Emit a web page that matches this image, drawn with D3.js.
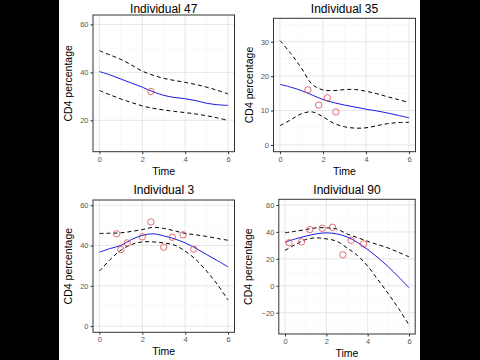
<!DOCTYPE html>
<html lang="en">
<head>
<meta charset="UTF-8">
<title>CD4 percentage by individual</title>
<script src="https://d3js.org/d3.v7.min.js"></script>
<style>
    body { margin: 0; background: #000; }
    svg { display: block; }
    .tick-label { font-family: "Liberation Sans", Arial, sans-serif; font-size: 7.5px; fill: #555; }
    .axis-title { font-family: "Liberation Sans", Arial, sans-serif; font-size: 10.5px; fill: #000; }
    .panel-title { font-family: "Liberation Sans", Arial, sans-serif; font-size: 12px; fill: #000; }
</style>
</head>
<body>
<svg width="480" height="360"></svg>
<script>
// time grid the fitted curves are read at
const timeGrid = [0, 0.5, 1, 1.5, 2, 2.5, 3, 3.5, 4, 4.5, 5, 5.5, 6];
const xTicks = [0, 2, 4, 6];

// Individual 47
const fit47   = [40.3, 38.9, 37.2, 35.5, 33.8, 31.9, 30.4, 29.5, 29.0, 28.2, 27.1, 26.5, 26.2];
const upper47 = [49, 47.2, 45.4, 43, 40.5, 38.8, 37.5, 36.6, 35.8, 34.9, 33.8, 32.5, 31];
const lower47 = [32.4, 30.6, 28.9, 27.4, 26, 25, 24.3, 23.7, 23.2, 22.6, 21.9, 21, 19.9];
const obsTime47 = [2.4];
const obsCD4_47 = [32];

// Individual 35
const fit35   = [17.6, 16.8, 15.8, 14.5, 13.2, 12.3, 11.6, 11, 10.4, 9.9, 9.3, 8.6, 7.9];
const upper35 = [30.3, 26.6, 22.3, 17.6, 16.0, 15.8, 16.1, 16.1, 15.6, 14.9, 14.0, 13.2, 12.3];
const lower35 = [5.6, 7.3, 9.1, 9.6, 8.2, 6.3, 5.3, 4.9, 5.0, 5.6, 6.2, 6.5, 6.6];
const obsTime35 = [1.3, 1.8, 2.2, 2.6];
const obsCD4_35 = [16.0, 11.6, 13.7, 9.6];

// Individual 3
const fit3   = [36.7, 38.5, 40, 43, 45, 45.8, 44.8, 43.3, 41.3, 38.6, 35.5, 32.5, 29.4];
const upper3 = [46, 46.1, 46.3, 47, 47.9, 49, 48.5, 47.3, 46, 45.3, 44.5, 43.5, 42.6];
const lower3 = [27.3, 33, 37.7, 40.5, 41.8, 41.8, 41.3, 40.2, 37.2, 33, 27.3, 20.7, 12.9];
const obsTime3 = [0.8, 1.0, 1.3, 2.0, 2.4, 3.0, 3.4, 3.9, 4.4];
const obsCD4_3 = [45.8, 38, 41.3, 44.3, 51.7, 39.2, 44.1, 45.3, 38.2];

// Individual 90
const fit90   = [32.3, 34.8, 36.8, 38.5, 39.3, 38.5, 36.3, 32.2, 26.9, 20.8, 14.1, 6.5, -1.5];
const upper90 = [39.3, 40.5, 41.7, 43, 43, 42.2, 38.5, 35.8, 33, 30.5, 28, 24.8, 21.5];
const lower90 = [26.2, 30.6, 34.3, 35.6, 34.8, 33.1, 28.1, 22.5, 14.6, 4.4, -5.9, -17, -29.1];
const obsTime90 = [0.2, 0.8, 1.2, 1.8, 2.3, 2.8, 3.2, 3.8];
const obsCD4_90 = [31.9, 32.6, 41.7, 42.7, 43.5, 23, 33.8, 31.1];

const panels = [
    { title: "Individual 47", fit: fit47, upper: upper47, lower: lower47, ot: obsTime47, oy: obsCD4_47,
      box: [93, 234.5, 15, 151.7], titleY: 12.5, yDomain: [6.9, 63.9], yTicks: [20, 40, 60] },
    { title: "Individual 35", fit: fit35, upper: upper35, lower: lower35, ot: obsTime35, oy: obsCD4_35,
      box: [273.5, 415.5, 18.3, 151.7], titleY: 12.5, yDomain: [-1.95, 36.8], yTicks: [0, 10, 20, 30] },
    { title: "Individual 3", fit: fit3, upper: upper3, lower: lower3, ot: obsTime3, oy: obsCD4_3,
      box: [93, 234.5, 200, 332.3], titleY: 193.5, yDomain: [-3.1, 62.6], yTicks: [0, 20, 40, 60] },
    { title: "Individual 90", fit: fit90, upper: upper90, lower: lower90, ot: obsTime90, oy: obsCD4_90,
      box: [278.8, 415.2, 199.3, 334], titleY: 193.5, yDomain: [-35.8, 64.2], yTicks: [-20, 0, 20, 40, 60] }
];

const svg = d3.select("svg");

// white picture area between the black side bars
svg.append("rect").attr("x", 59).attr("y", 0).attr("width", 361).attr("height", 360).attr("fill", "#fff");

panels.forEach(p => {
    const [left, right, top, bottom] = p.box;
    const x = d3.scaleLinear().domain([-0.3, 6.3]).range([left, right]);
    const y = d3.scaleLinear().domain(p.yDomain).range([bottom, top]);
    const g = svg.append("g");

    // minor grid at midpoints
    const xMinor = [1, 3, 5];
    const step = p.yTicks[1] - p.yTicks[0];
    const yMinor = d3.range(p.yTicks[0] - step / 2, p.yDomain[1], step).filter(v => v > p.yDomain[0]);
    g.selectAll(".xminor").data(xMinor).enter().append("line")
        .attr("x1", d => x(d)).attr("x2", d => x(d)).attr("y1", top).attr("y2", bottom)
        .attr("stroke", "#f3f3f3").attr("stroke-width", 0.5);
    g.selectAll(".yminor").data(yMinor).enter().append("line")
        .attr("x1", left).attr("x2", right).attr("y1", d => y(d)).attr("y2", d => y(d))
        .attr("stroke", "#f3f3f3").attr("stroke-width", 0.5);
    // major grid
    g.selectAll(".xmajor").data(xTicks).enter().append("line")
        .attr("x1", d => x(d)).attr("x2", d => x(d)).attr("y1", top).attr("y2", bottom)
        .attr("stroke", "#e6e6e6").attr("stroke-width", 1);
    g.selectAll(".ymajor").data(p.yTicks).enter().append("line")
        .attr("x1", left).attr("x2", right).attr("y1", d => y(d)).attr("y2", d => y(d))
        .attr("stroke", "#e6e6e6").attr("stroke-width", 1);

    const line = arr => d3.line()
        .x((d, i) => x(timeGrid[i]))
        .y(d => y(d))
        .curve(d3.curveCatmullRom)(arr);

    g.append("path").attr("d", line(p.upper)).attr("fill", "none")
        .attr("stroke", "#000").attr("stroke-width", 1).attr("stroke-dasharray", "4,3");
    g.append("path").attr("d", line(p.lower)).attr("fill", "none")
        .attr("stroke", "#000").attr("stroke-width", 1).attr("stroke-dasharray", "4,3");
    g.append("path").attr("d", line(p.fit)).attr("fill", "none")
        .attr("stroke", "#1a1ae0").attr("stroke-width", 1);

    g.selectAll("circle").data(p.ot).enter().append("circle")
        .attr("cx", d => x(d)).attr("cy", (d, i) => y(p.oy[i])).attr("r", 3.2)
        .attr("fill", "none").attr("stroke", "#e0484a").attr("stroke-width", 0.8);

    // panel border
    g.append("rect").attr("x", left).attr("y", top).attr("width", right - left).attr("height", bottom - top)
        .attr("fill", "none").attr("stroke", "#333").attr("stroke-width", 1);

    // axes
    const xAxis = g.append("g").attr("transform", `translate(0,${bottom})`)
        .call(d3.axisBottom(x).tickValues(xTicks).tickSize(2.5).tickPadding(2).tickFormat(d3.format("d")));
    const yAxis = g.append("g").attr("transform", `translate(${left},0)`)
        .call(d3.axisLeft(y).tickValues(p.yTicks).tickSize(2.5).tickPadding(2).tickFormat(d => d < 0 ? "\u2212" + (-d) : d));
    [xAxis, yAxis].forEach(a => {
        a.select(".domain").remove();
        a.selectAll(".tick line").attr("stroke", "#333");
        a.selectAll(".tick text").attr("class", "tick-label").attr("fill", null);
    });

    g.append("text").attr("class", "panel-title")
        .attr("x", (left + right) / 2).attr("y", p.titleY)
        .attr("text-anchor", "middle").text(p.title);
    g.append("text").attr("class", "axis-title")
        .attr("x", (left + right) / 2).attr("y", bottom + 23)
        .attr("text-anchor", "middle").text("Time");
    g.append("text").attr("class", "axis-title")
        .attr("transform", `translate(${left - (p.yTicks[0] < 0 ? 27 : 21)},${(top + bottom) / 2}) rotate(-90)`)
        .attr("text-anchor", "middle").text("CD4 percentage");
});
</script>
</body>
</html>
